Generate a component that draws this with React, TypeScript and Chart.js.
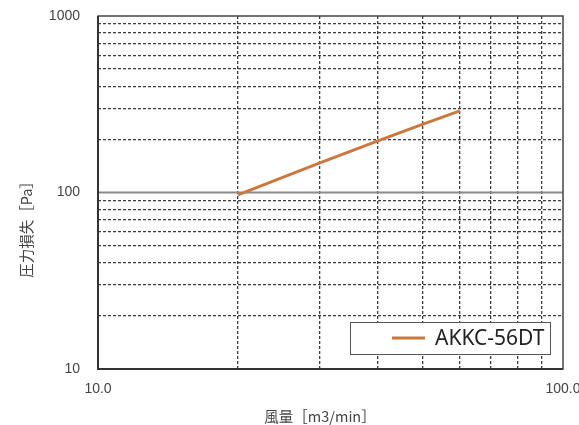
import React, { useEffect, useRef } from "react";
import { Chart, registerables } from "chart.js";

Chart.register(...registerables);

const seriesLabel = "AKKC-56DT";
const flowValues = [20, 30, 40, 50, 60];
const pressureValues = [97, 147, 196, 244, 290];

const xTickValues = [10, 20, 30, 40, 50, 60, 70, 80, 90, 100];
const xLabelValues = [10, 100];
const xLabelTexts = ["10.0", "100.0"];
const yTickValues = [10, 20, 30, 40, 50, 60, 70, 80, 90, 100, 200, 300, 400, 500, 600, 700, 800, 900, 1000];
const yLabelValues = [10, 100, 1000];
const yLabelTexts = ["10", "100", "1000"];
const majorValues = [10, 100, 1000];

const xTitle = "風量［m3/min］";
const yTitle = "圧力損失［Pa］";

const lineColor = "#C9783F";

export default function App() {
  const ref = useRef<HTMLCanvasElement | null>(null);

  useEffect(() => {
    if (!ref.current) return;

    const framePlugin = {
      id: "frame",
      beforeDatasetsDraw(chart: any) {
        const { ctx, chartArea: a, scales } = chart;
        ctx.save();
        const y100 = scales.y.getPixelForValue(100);
        ctx.strokeStyle = "#8a8a8a";
        ctx.lineWidth = 2;
        ctx.beginPath();
        ctx.moveTo(a.left, y100);
        ctx.lineTo(a.right, y100);
        ctx.stroke();
        ctx.strokeStyle = "#444";
        ctx.lineWidth = 1.5;
        ctx.strokeRect(a.left, a.top, a.right - a.left, a.bottom - a.top);
        ctx.strokeStyle = "#333";
        ctx.lineWidth = 2;
        ctx.beginPath();
        ctx.moveTo(a.left, a.top);
        ctx.lineTo(a.left, a.bottom);
        ctx.lineTo(a.right, a.bottom);
        ctx.stroke();
        ctx.restore();
      },
      afterDraw(chart: any) {
        const { ctx, chartArea: a } = chart;
        ctx.save();
        ctx.fillStyle = "#444";
        ctx.font = '14.5px "Noto Sans CJK JP"';
        ctx.textAlign = "center";
        ctx.textBaseline = "middle";
        ctx.fillText(xTitle, 320, 416);
        ctx.translate(26, 226);
        ctx.rotate(-Math.PI / 2);
        ctx.fillText(yTitle, 0, 0);
        ctx.restore();

        ctx.save();
        const boxRight = a.right - 13;
        const boxLeft = a.right - 213;
        const boxTop = a.bottom - 47;
        const boxBottom = a.bottom - 15;
        ctx.fillStyle = "#fff";
        ctx.fillRect(boxLeft, boxTop, boxRight - boxLeft, boxBottom - boxTop);
        ctx.strokeStyle = "#555";
        ctx.lineWidth = 1;
        ctx.strokeRect(boxLeft + 0.5, boxTop + 0.5, boxRight - boxLeft, boxBottom - boxTop);
        const midY = (boxTop + boxBottom) / 2;
        ctx.strokeStyle = lineColor;
        ctx.lineWidth = 3;
        ctx.beginPath();
        ctx.moveTo(boxLeft + 42, midY);
        ctx.lineTo(boxLeft + 75, midY);
        ctx.stroke();
        ctx.fillStyle = "#222";
        ctx.font = '21px "Noto Sans"';
        ctx.textAlign = "left";
        ctx.textBaseline = "middle";
        ctx.fillText(chart.data.datasets[0].label, boxLeft + 85, midY + 1);
        ctx.restore();
      },
    };

    const isMajor = (v: number) => majorValues.includes(v);

    const chart = new Chart(ref.current, {
      type: "line",
      data: {
        datasets: [
          {
            label: seriesLabel,
            data: flowValues.map((x, i) => ({ x, y: pressureValues[i] })),
            borderColor: lineColor,
            backgroundColor: lineColor,
            borderWidth: 3,
            pointRadius: 0,
            tension: 0,
          },
        ],
      },
      options: {
        animation: false,
        responsive: true,
        maintainAspectRatio: false,
        layout: { autoPadding: false, padding: { left: 0, right: 16, top: 16, bottom: 0 } } as any,
        plugins: {
          legend: { display: false },
          tooltip: { enabled: false },
        },
        scales: {
          x: {
            type: "logarithmic",
            min: 10,
            max: 100,
            afterBuildTicks: (s: any) => {
              s.ticks = xTickValues.map((v) => ({ value: v }));
            },
            afterFit: (s: any) => {
              s.height = 56;
              s.paddingLeft = 0;
              s.paddingRight = 0;
            },
            grid: {
              color: (c: any) => (isMajor(c.tick?.value) ? "rgba(0,0,0,0)" : "#3a3a3a"),
              lineWidth: 1.3,
              drawTicks: false,
            },
            border: { display: false, dash: [3, 2] },
            ticks: {
              autoSkip: false,
              maxRotation: 0,
              padding: 12,
              color: "#444",
              font: { family: '"Liberation Sans"', size: 14 },
              callback: (v: any) => {
                const i = xLabelValues.indexOf(Number(v));
                return i >= 0 ? xLabelTexts[i] : "";
              },
            },
          },
          y: {
            type: "logarithmic",
            min: 10,
            max: 1000,
            afterBuildTicks: (s: any) => {
              s.ticks = yTickValues.map((v) => ({ value: v }));
            },
            afterFit: (s: any) => {
              s.width = 98;
              s.paddingTop = 0;
              s.paddingBottom = 0;
            },
            grid: {
              color: (c: any) => (isMajor(c.tick?.value) ? "rgba(0,0,0,0)" : "#3a3a3a"),
              lineWidth: 1.3,
              drawTicks: false,
            },
            border: { display: false, dash: [3, 2] },
            ticks: {
              autoSkip: false,
              padding: 18,
              color: "#444",
              font: { family: '"Liberation Sans"', size: 14 },
              callback: (v: any) => {
                const i = yLabelValues.indexOf(Number(v));
                return i >= 0 ? yLabelTexts[i] : "";
              },
            },
          },
        },
      },
      plugins: [framePlugin],
    });

    return () => chart.destroy();
  }, []);

  return (
    <div style={{ position: "fixed", left: 0, top: 0, width: 579, height: 425, background: "#fff" }}>
      <canvas ref={ref} />
    </div>
  );
}
